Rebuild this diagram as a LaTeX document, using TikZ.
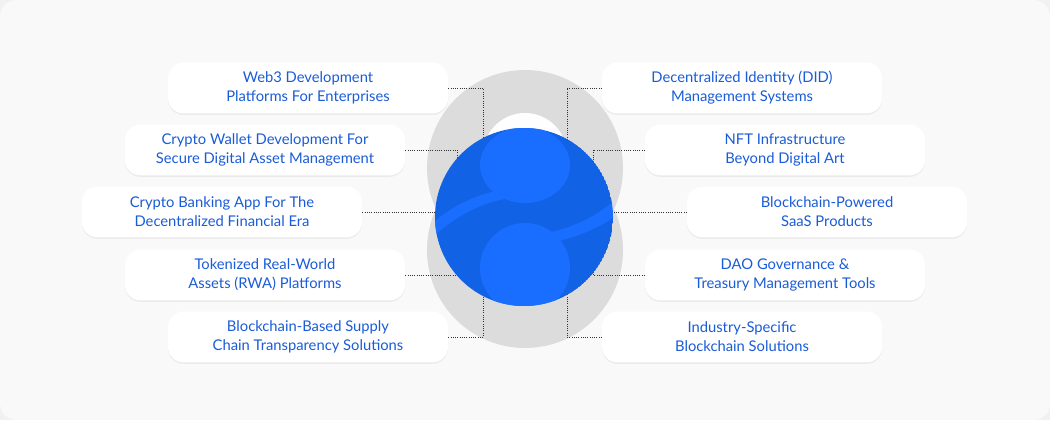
\documentclass[tikz,border=0pt]{standalone}
\usepackage{fontspec}
\setmainfont{Lato}
\usetikzlibrary{positioning, shadows, calc}

\definecolor{bgray}{HTML}{F1F1F3}
\definecolor{ringgray}{HTML}{DCDCDC}
\definecolor{mainblue}{HTML}{1262E6}
\definecolor{lightblue}{HTML}{1A6EFF}
\definecolor{txtblue}{HTML}{1A5CD8}

\tikzset{
  card/.style={draw=none, fill=white, rounded corners=11pt, minimum width=7cm, minimum height=1.27cm,
    align=center, text=txtblue, font=\fontsize{10.5}{13.5}\selectfont,
    drop shadow={shadow xshift=0pt, shadow yshift=-1pt, opacity=0.12}},
  link/.style={densely dotted, thick, black!80, line width=0.6pt}
}

\begin{document}
\begin{tikzpicture}[x=0.025cm, y=-0.025cm]

  \fill[bgray] (0,0) rectangle (1050,420);
  \fill[white, opacity=0.6] (0,0) [rounded corners=12pt] rectangle (1050,420);

  % grey rings behind the ball
  \fill[ringgray] (525,168) circle (98);
  \fill[ringgray] (525,250) circle (98);
  \fill[white!92!bgray] (525,155) circle (42);
  \fill[white!92!bgray] (525,258) circle (40);

  % cards, left side
  \node (l1) [card] at (308,88) {Web3 Development\\Platforms For Enterprises};
  \node (l2) [card] at (265,150) {Crypto Wallet Development For\\Secure Digital Asset Management};
  \node (l3) [card] at (222,212) {Crypto Banking App For The\\Decentralized Financial Era};
  \node (l4) [card] at (265,275) {Tokenized Real-World\\Assets (RWA) Platforms};
  \node (l5) [card] at (308,337) {Blockchain-Based Supply\\Chain Transparency Solutions};

  % cards, right side
  \node (r1) [card] at (742,88) {Decentralized Identity (DID)\\Management Systems};
  \node (r2) [card] at (785,150) {NFT Infrastructure\\Beyond Digital Art};
  \node (r3) [card] at (827,212) {Blockchain-Powered\\SaaS Products};
  \node (r4) [card] at (785,275) {DAO Governance \&\\Treasury Management Tools};
  \node (r5) [card] at (742,337) {Industry-Specific\\Blockchain Solutions};

  \coordinate (c) at (524,217);
  \coordinate (ct) at (483,150);
  \coordinate (cb) at (483,290);
  \coordinate (dt) at (567,150);
  \coordinate (db) at (567,290);

  % connectors
  \draw[link] (l1.east) -| (ct);
  \draw[link] (l2.east) -| (457,170);
  \draw[link] (l3.east) -- (435,212);
  \draw[link] (l4.east) -| (457,262);
  \draw[link] (l5.east) -| (cb);
  \draw[link] (r1.west) -| (dt);
  \draw[link] (r2.west) -| (593,170);
  \draw[link] (r3.west) -- (613,212);
  \draw[link] (r4.west) -| (593,262);
  \draw[link] (r5.west) -| (db);

  % ball
  \begin{scope}
    \clip (c) circle (89);
    \fill[mainblue] (c) circle (89);
    \fill[lightblue] (525,165) ellipse (45 and 38);
    \fill[lightblue] (525,268) ellipse (45 and 45);
    \fill[lightblue] (430,225) .. controls (470,190) and (510,188) .. (525,188)
      -- (525,197) .. controls (490,197) and (455,215) .. (430,240) -- cycle;
    \fill[lightblue] (620,195) .. controls (590,225) and (550,235) .. (525,235)
      -- (525,245) .. controls (560,245) and (600,230) .. (620,212) -- cycle;
  \end{scope}
\end{tikzpicture}
\end{document}
